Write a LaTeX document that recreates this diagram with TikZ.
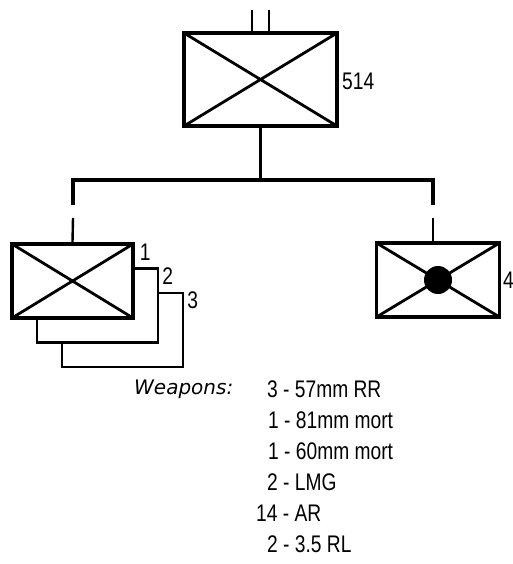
\documentclass[tikz,border=0pt]{standalone}
\usepackage{fontspec}
\usetikzlibrary{calc}
\setmainfont{Liberation Sans}
\newfontfamily\condfont[FakeStretch=0.8]{Liberation Sans}
\newfontfamily\wpnfont{DejaVu Sans}
\begin{document}
\begin{tikzpicture}[x=1pt, y=-1pt,
		every node/.style={text=black, inner sep=0pt, font=\condfont\fontsize{24}{28}\selectfont},
		unitbox/.style={draw, line width=3.4pt, rectangle, fill=white,
			path picture={\draw[line width=2.8pt] (path picture bounding box.north west) -- (path picture bounding box.south east)
				(path picture bounding box.south west) -- (path picture bounding box.north east);}},
		backbox/.style={draw, line width=2.2pt, rectangle, fill=white, minimum width=121pt, minimum height=74pt},
		conn/.style={line width=3.6pt},
		link/.style={line width=2.4pt}]
	\useasboundingbox (0,0) rectangle (513,564);
		% battalion
		\node[unitbox, minimum width=153pt, minimum height=93pt] (bn) at (260.5,79.5) {};
		\node[anchor=base west] (bnlbl) at (342,90) {514};
		\coordinate (tick1) at (252,10);
		\coordinate (tick2) at (269,10);
		\draw[link] (tick1) -- (tick1 |- bn.north);
		\draw[link] (tick2) -- (tick2 |- bn.north);
		% rifle companies
		\node[backbox] (co3) at (122.5,330) {};
		\node[backbox] (co2) at (97.5,305.5) {};
		\node[unitbox, minimum width=121pt, minimum height=74pt] (co1) at (72.5,281) {};
		\node[anchor=north west] (lbl1) at ($(co1.north east)+(5,1)$) {1};
		\node[anchor=north west] (lbl2) at ($(co2.north east)+(3,0)$) {2};
		\node[anchor=north west] (lbl3) at ($(co3.north east)+(3,0)$) {3};
		% weapons company
		\node[unitbox, minimum width=123pt, minimum height=74pt] (wpn) at (438,280) {};
		\fill (wpn.center) circle (14pt);
		\node[anchor=west] (lbl4) at (503,280) {4};
		% connectors
		\coordinate (busL) at (73,180);
		\coordinate (busR) at (433,180);
		\coordinate (dropL) at (73,218);
		\coordinate (dropR) at (433,218);
		\draw[conn] (bn.south) -- (bn.south |- busL);
		\draw[conn] (busL) ++(0,25) -- (busL) -- (busR) -- ++(0,25);
		\draw[link] (dropL) -- (co1.north);
		\draw[link] (dropR) -- (dropR |- wpn.north);
		% weapons list
		\node[anchor=base west, font=\wpnfont\itshape\fontsize{20}{24}\selectfont] (wlbl) at (134,394) {Weapons:};
		\node[anchor=base west] (w1) at (267,397) {3 - 57mm RR};
		\node[anchor=base west] (w2) at (268,428) {1 - 81mm mort};
		\node[anchor=base west] (w3) at (268,459) {1 - 60mm mort};
		\node[anchor=base west] (w4) at (267,490) {2 - LMG};
		\node[anchor=base west] (w5) at (256,521) {14 - AR};
		\node[anchor=base west] (w6) at (267,552) {2 - 3.5 RL};
\end{tikzpicture}
\end{document}
